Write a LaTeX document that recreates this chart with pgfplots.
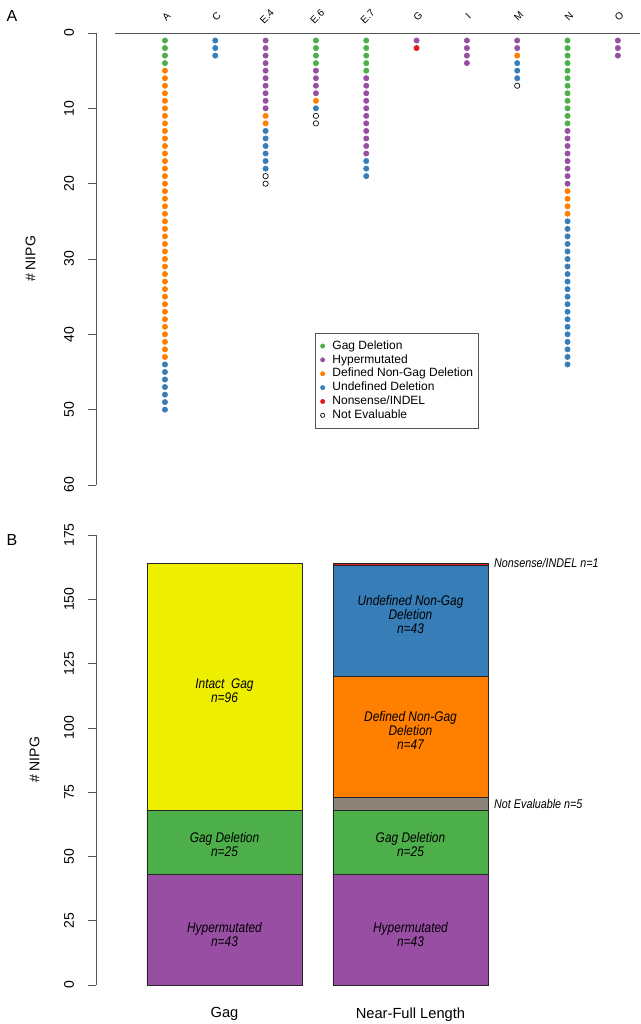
\documentclass[border=0pt]{standalone}
\usepackage{fontspec}
\setmainfont{Liberation Sans}
\newfontfamily\narrowfont[FakeStretch=0.85]{Liberation Sans}
\usepackage{pgfplots}
\pgfplotsset{compat=1.18}

\definecolor{gagdel}{HTML}{4DAF4A}
\definecolor{hyper}{HTML}{984EA3}
\definecolor{defined}{HTML}{FF7F00}
\definecolor{undefined}{HTML}{377EB8}
\definecolor{nonsense}{HTML}{E41A1C}
\definecolor{intact}{HTML}{EEEE00}
\definecolor{noteval}{HTML}{8B8378}
\definecolor{axisgray}{HTML}{555555}

\newcommand{\labfont}{\narrowfont\itshape\fontsize{10.5}{10.5}\selectfont}
\newcommand{\sidefont}{\narrowfont\itshape\fontsize{9.5}{11}\selectfont}

\begin{document}
\begin{tikzpicture}
\useasboundingbox (0,0) rectangle (480pt,768pt);

% panel labels
\node[font=\fontsize{12}{14}\selectfont] at (9pt,756pt) {A};
\node[font=\fontsize{12}{14}\selectfont] at (9pt,363pt) {B};

% ---------- panel A: one column of dots per participant ----------
\begin{axis}[
  scale only axis, width=408pt, height=339pt,
  at={(72pt,743.25pt)}, anchor=north west,
  xmin=-0.37, xmax=10.44, ymin=0, ymax=60, y dir=reverse,
  axis y line=left, axis x line=top,
  x axis line style={draw=none}, axis line style={-, axisgray},
  tick align=outside, major tick length=6pt,
  every tick/.style={axisgray},
  xtick={1,...,10}, xticklabels={A,C,E.4,E.6,E.7,G,I,M,N,O},
  xtick style={draw=none},
  xticklabel style={yshift=6.5pt, xshift=1pt, rotate=45, anchor=center, font=\fontsize{7.5}{9}\selectfont},
  ytick={0,10,...,60},
  yticklabel style={xshift=-7pt, rotate=90, anchor=south, font=\fontsize{10.5}{12}\selectfont},
  /pgf/number format/assume math mode=true,
  every axis y label/.style={at={(rel axis cs:0,0.5)}, xshift=-49pt, rotate=90, anchor=center},
  ylabel={\# NIPG}, label style={font=\fontsize{10.5}{12}\selectfont},
  clip=false,
  legend style={at={(axis cs:3.98,39.8)}, anchor=north west, draw=axisgray,
    font=\fontsize{9}{10}\selectfont, row sep=0pt, inner xsep=2pt, inner ysep=4.5pt,
    nodes={inner ysep=0.6pt, inner xsep=2pt, text height=7pt, text depth=2.2pt}, cells={anchor=west}},
  legend image code/.code={\path (0cm,0cm) (0.3cm,0cm); \draw[#1, mark size=1.6pt] plot coordinates {(0.12cm,0cm)};},
]
\draw[axisgray] (axis cs:0,0) -- (axis cs:10.44,0);

\addplot[only marks, mark=*, mark size=2pt, color=gagdel] coordinates {
 (1,1) (1,2) (1,3) (1,4)
 (4,1) (4,2) (4,3) (4,4)
 (5,1) (5,2) (5,3) (5,4) (5,5)
 (9,1) (9,2) (9,3) (9,4) (9,5) (9,6) (9,7) (9,8) (9,9) (9,10) (9,11) (9,12)
};
\addplot[only marks, mark=*, mark size=2pt, color=hyper] coordinates {
 (3,1) (3,2) (3,3) (3,4) (3,5) (3,6) (3,7) (3,8) (3,9) (3,10)
 (4,5) (4,6) (4,7) (4,8)
 (5,6) (5,7) (5,8) (5,9) (5,10) (5,11) (5,12) (5,13) (5,14) (5,15) (5,16)
 (6,1)
 (7,1) (7,2) (7,3) (7,4)
 (8,1) (8,2)
 (9,13) (9,14) (9,15) (9,16) (9,17) (9,18) (9,19) (9,20)
 (10,1) (10,2) (10,3)
};
\addplot[only marks, mark=*, mark size=2pt, color=defined] coordinates {
 (1,5) (1,6) (1,7) (1,8) (1,9) (1,10) (1,11) (1,12) (1,13) (1,14)
 (1,15) (1,16) (1,17) (1,18) (1,19) (1,20) (1,21) (1,22) (1,23) (1,24)
 (1,25) (1,26) (1,27) (1,28) (1,29) (1,30) (1,31) (1,32) (1,33) (1,34)
 (1,35) (1,36) (1,37) (1,38) (1,39) (1,40) (1,41) (1,42) (1,43)
 (3,11) (3,12)
 (4,9)
 (8,3)
 (9,21) (9,22) (9,23) (9,24)
};
\addplot[only marks, mark=*, mark size=2pt, color=undefined] coordinates {
 (1,44) (1,45) (1,46) (1,47) (1,48) (1,49) (1,50)
 (2,1) (2,2) (2,3)
 (3,13) (3,14) (3,15) (3,16) (3,17) (3,18)
 (4,10)
 (5,17) (5,18) (5,19)
 (8,4) (8,5) (8,6)
 (9,25) (9,26) (9,27) (9,28) (9,29) (9,30) (9,31) (9,32) (9,33) (9,34)
 (9,35) (9,36) (9,37) (9,38) (9,39) (9,40) (9,41) (9,42) (9,43) (9,44)
};
\addplot[only marks, mark=*, mark size=2pt, color=nonsense] coordinates {
 (6,2)
};
\addplot[only marks, mark=o, mark size=2pt, color=black, mark options={fill=white, line width=0.5pt}] coordinates {
 (3,19) (3,20) (4,11) (4,12) (8,7)
};
\legend{Gag Deletion, Hypermutated, Defined Non-Gag Deletion, Undefined Deletion, Nonsense/INDEL, Not Evaluable}
\end{axis}

% ---------- panel B: stacked bars ----------
\begin{axis}[
  scale only axis, width=408pt, height=337.5pt,
  at={(72pt,29.25pt)}, anchor=south west,
  xmin=-0.129, xmax=3.381, ymin=0, ymax=175,
  ybar stacked, bar width=1,
  axis y line=left, axis x line=bottom,
  x axis line style={draw=none}, axis line style={-, axisgray},
  tick align=outside, major tick length=6pt,
  every tick/.style={axisgray},
  xtick={0.7,1.9}, xticklabels={Gag, Near-Full Length},
  xtick style={draw=none},
  xticklabel style={yshift=-7.5pt, anchor=north, font=\fontsize{11}{13}\selectfont},
  ytick={0,25,...,175},
  yticklabel style={xshift=-7pt, rotate=90, anchor=south, font=\fontsize{10.5}{12}\selectfont},
  /pgf/number format/assume math mode=true,
  every axis y label/.style={at={(rel axis cs:0,0.5)}, xshift=-46pt, rotate=90, anchor=center},
  ylabel={\# NIPG}, label style={font=\fontsize{10.5}{12}\selectfont},
  clip=false,
  every axis plot/.append style={draw=black!85, line width=0.6pt},
]
\addplot[fill=hyper] coordinates {(0.7,43) (1.9,43)};
\addplot[fill=gagdel] coordinates {(0.7,25) (1.9,25)};
\addplot[fill=intact] coordinates {(0.7,96) (1.9,0)};
\addplot[fill=noteval] coordinates {(0.7,0) (1.9,5)};
\addplot[fill=defined] coordinates {(0.7,0) (1.9,47)};
\addplot[fill=undefined] coordinates {(0.7,0) (1.9,43)};
\addplot[fill=nonsense] coordinates {(0.7,0) (1.9,1)};

\coordinate (l1) at (axis cs:0.7,114.3);
\coordinate (l2) at (axis cs:0.7,54.5);
\coordinate (l3) at (axis cs:0.7,19.5);
\coordinate (r1) at (axis cs:1.9,144.2);
\coordinate (r2) at (axis cs:1.9,99.1);
\coordinate (r3) at (axis cs:1.9,54.5);
\coordinate (r4) at (axis cs:1.9,19.5);
\coordinate (s1) at (axis cs:2.43,164.1);
\coordinate (s2) at (axis cs:2.43,70.5);
\end{axis}

\node[align=center, font=\labfont] at (l1) {Intact~~Gag\\n=96};
\node[align=center, font=\labfont] at (l2) {Gag Deletion\\n=25};
\node[align=center, font=\labfont] at (l3) {Hypermutated\\n=43};
\node[align=center, font=\labfont] at (r1) {Undefined Non-Gag\\Deletion\\n=43};
\node[align=center, font=\labfont] at (r2) {Defined Non-Gag\\Deletion\\n=47};
\node[align=center, font=\labfont] at (r3) {Gag Deletion\\n=25};
\node[align=center, font=\labfont] at (r4) {Hypermutated\\n=43};
\node[anchor=west, font=\sidefont, inner sep=1pt] at (s1) {Nonsense/INDEL n=1};
\node[anchor=west, font=\sidefont, inner sep=1pt] at (s2) {Not Evaluable n=5};
\end{tikzpicture}
\end{document}
